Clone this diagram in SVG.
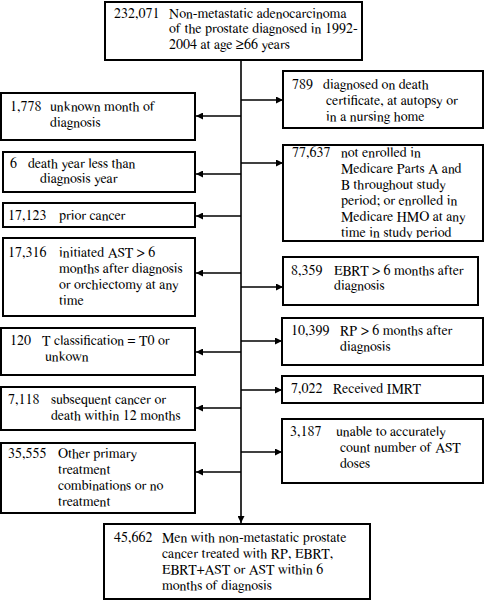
<svg xmlns="http://www.w3.org/2000/svg" width="484" height="600" viewBox="0 0 484 600">
<style>
.b{fill:#fff;stroke:#000;stroke-width:2}
text{font-family:FreeSerif,'Liberation Serif','Times New Roman',serif;font-size:14px;fill:#000}
.c line{stroke:#000;stroke-width:1.6}
</style>
<defs>
<marker id="ah" viewBox="0 0 10 10" refX="10" refY="5" markerWidth="8" markerHeight="7" markerUnits="userSpaceOnUse" orient="auto"><path d="M0,0L10,5L0,10Z" fill="#000"/></marker>
<clipPath id="clip77"><rect x="283" y="145" width="200" height="93"/></clipPath>
</defs>
<g class="c" id="connectors">
<line x1="241" y1="60" x2="241" y2="523" marker-end="url(#ah)"/>
<line x1="241" y1="100" x2="283" y2="100" marker-end="url(#ah)"/>
<line x1="241" y1="116" x2="196" y2="116" marker-end="url(#ah)"/>
<line x1="241" y1="174" x2="196" y2="174" marker-end="url(#ah)"/>
<line x1="241" y1="163" x2="283" y2="163" marker-end="url(#ah)"/>
<line x1="241" y1="216" x2="196" y2="216" marker-end="url(#ah)"/>
<line x1="241" y1="273" x2="196" y2="273" marker-end="url(#ah)"/>
<line x1="241" y1="287" x2="283" y2="287" marker-end="url(#ah)"/>
<line x1="241" y1="341" x2="282" y2="341" marker-end="url(#ah)"/>
<line x1="241" y1="352" x2="196" y2="352" marker-end="url(#ah)"/>
<line x1="241" y1="390" x2="282" y2="390" marker-end="url(#ah)"/>
<line x1="241" y1="408" x2="196" y2="408" marker-end="url(#ah)"/>
<line x1="241" y1="452" x2="282" y2="452" marker-end="url(#ah)"/>
<line x1="241" y1="472" x2="196" y2="472" marker-end="url(#ah)"/>
</g>
<g id="n-top"><rect class="b" x="105" y="2" width="257" height="58"/>
<text x="114" y="18">232,071</text><text x="169" y="18">Non-metastatic adenocarcinoma</text><text x="169" y="33">of the prostate diagnosed in 1992-</text><text x="169" y="49">2004 at age ≥66 years</text></g>
<g id="n-789"><rect class="b" x="283" y="71" width="200" height="57"/>
<text x="292" y="89">789</text><text x="323" y="89">diagnosed on death</text><text x="326" y="105">certificate, at autopsy or</text><text x="326" y="121">in a nursing home</text></g>
<g id="n-1778"><rect class="b" x="1" y="93" width="194" height="47"/>
<text x="10" y="111">1,778</text><text x="50" y="111">unknown month of</text><text x="50" y="127">diagnosis</text></g>
<g id="n-6"><rect class="b" x="3" y="152" width="192" height="40"/>
<text x="10" y="168">6</text><text x="28" y="168">death year less than</text><text x="40" y="183">diagnosis year</text></g>
<g id="n-77637"><rect class="b" x="283" y="145" width="200" height="96"/>
<g clip-path="url(#clip77)"><text x="292" y="157">77,637</text><text x="341" y="157">not enrolled in</text><text x="341" y="173">Medicare Parts A and</text><text x="341" y="189">B throughout study</text><text x="341" y="205">period; or enrolled in</text><text x="341" y="221">Medicare HMO at any</text><text x="341" y="237">time in study period</text></g></g>
<g id="n-17123"><rect class="b" x="3" y="203" width="192" height="24"/>
<text x="8" y="220">17,123</text><text x="59" y="220">prior cancer</text></g>
<g id="n-17316"><rect class="b" x="3" y="238" width="192" height="78"/>
<text x="8" y="257">17,316</text><text x="59" y="257">initiated AST &gt; 6</text><text x="59" y="273">months after diagnosis</text><text x="59" y="289">or orchiectomy at any</text><text x="59" y="305">time</text></g>
<g id="n-8359"><rect class="b" x="283" y="257" width="195" height="48"/>
<text x="291" y="275">8,359</text><text x="334" y="275">EBRT &gt; 6 months after</text><text x="334" y="290">diagnosis</text></g>
<g id="n-10399"><rect class="b" x="282" y="318" width="201" height="47"/>
<text x="291" y="335">10,399</text><text x="340" y="335">RP &gt; 6 months after</text><text x="340" y="351">diagnosis</text></g>
<g id="n-120"><rect class="b" x="1" y="328" width="194" height="47"/>
<text x="10" y="345">120</text><text x="42" y="345">T classification = T0 or</text><text x="45" y="361">unkown</text></g>
<g id="n-7022"><rect class="b" x="282" y="376" width="201" height="27"/>
<text x="291" y="393">7,022</text><text x="333" y="393">Received IMRT</text></g>
<g id="n-7118"><rect class="b" x="1" y="387" width="194" height="43"/>
<text x="8" y="404">7,118</text><text x="51" y="404">subsequent cancer or</text><text x="51" y="420">death within 12 months</text></g>
<g id="n-3187"><rect class="b" x="282" y="419" width="201" height="64"/>
<text x="290" y="436">3,187</text><text x="336" y="436">unable to accurately</text><text x="340" y="452">count number of AST</text><text x="340" y="468">doses</text></g>
<g id="n-35555"><rect class="b" x="1" y="443" width="194" height="70"/>
<text x="8" y="458">35,555</text><text x="58" y="458">Other primary</text><text x="58" y="474">treatment</text><text x="58" y="490">combinations or no</text><text x="58" y="506">treatment</text></g>
<g id="n-bottom"><rect class="b" x="104" y="524" width="266" height="75"/>
<text x="114" y="542">45,662</text><text x="162" y="542">Men with non-metastatic prostate</text><text x="162" y="558">cancer treated with RP, EBRT,</text><text x="162" y="574">EBRT+AST or AST within 6</text><text x="162" y="590">months of diagnosis</text></g>
</svg>
